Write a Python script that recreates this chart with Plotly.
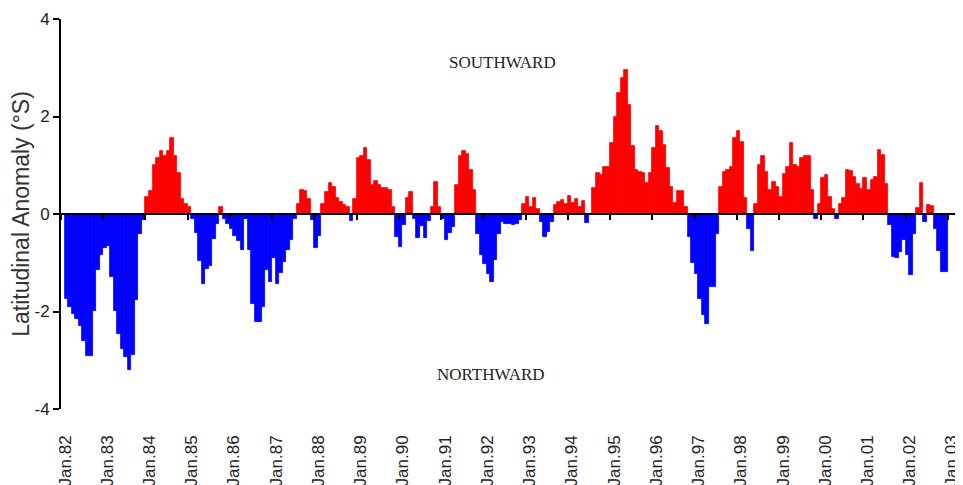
import plotly.graph_objects as go

# Monthly latitudinal anomaly (deg S), Jan 1982 .. Dec 2002, one row per year
y1982 = [0.0, -1.74, -1.9, -2.05, -2.15, -2.3, -2.6, -2.92, -2.92, -1.98, -1.15, -0.85]
y1983 = [-0.7, -0.65, -1.3, -1.98, -2.46, -2.76, -2.93, -3.21, -2.9, -1.77, -0.4, -0.12]
y1984 = [0.35, 0.48, 1.0, 1.15, 1.3, 1.2, 1.3, 1.55, 1.2, 0.85, 0.3, 0.2]
y1985 = [0.14, -0.1, -0.38, -0.96, -1.44, -1.13, -1.06, -0.51, -0.2, 0.14, -0.1, -0.2]
y1986 = [-0.3, -0.45, -0.55, -0.74, -0.1, -0.74, -1.84, -2.21, -2.21, -1.9, -1.15, -1.39]
y1987 = [-0.91, -1.43, -1.2, -0.98, -0.74, -0.53, -0.1, 0.2, 0.5, 0.48, 0.3, -0.12]
y1988 = [-0.7, -0.45, 0.2, 0.46, 0.63, 0.56, 0.32, 0.25, 0.19, 0.15, -0.15, 0.3]
y1989 = [1.15, 1.2, 1.35, 1.11, 0.6, 0.67, 0.6, 0.53, 0.53, 0.5, 0.15, -0.47]
y1990 = [-0.67, -0.23, 0.32, 0.46, -0.1, -0.5, -0.25, -0.5, -0.15, 0.15, 0.65, 0.15]
y1991 = [-0.1, -0.54, -0.38, -0.27, 0.6, 1.2, 1.3, 1.24, 0.9, 0.49, -0.4, -0.85]
y1992 = [-1.02, -1.23, -1.4, -0.95, -0.4, -0.17, -0.2, -0.2, -0.22, -0.2, -0.13, 0.21]
y1993 = [0.35, 0.14, 0.32, 0.11, -0.16, -0.47, -0.37, -0.16, 0.18, 0.25, 0.28, 0.2]
y1994 = [0.36, 0.22, 0.3, 0.15, 0.27, -0.18, 0.0, 0.53, 0.84, 0.8, 0.97, 0.97]
y1995 = [1.45, 2.0, 2.48, 2.79, 2.96, 2.24, 1.4, 0.9, 0.87, 0.84, 0.63, 0.84]
y1996 = [1.35, 1.8, 1.7, 1.42, 0.94, 0.56, 0.22, 0.48, 0.48, 0.14, -0.47, -1.0]
y1997 = [-1.23, -1.74, -2.08, -2.26, -1.5, -1.5, -0.4, 0.56, 0.86, 0.9, 0.97, 1.55]
y1998 = [1.7, 1.48, 0.33, -0.3, -0.75, 0.21, 1.0, 1.2, 0.86, 0.49, 0.66, 0.56]
y1999 = [0.35, 0.83, 0.97, 1.45, 1.0, 0.97, 1.14, 1.2, 1.2, 0.5, -0.1, 0.21]
y2000 = [0.73, 0.8, 0.35, 0.11, -0.1, 0.21, 0.32, 0.9, 0.88, 0.76, 0.62, 0.52]
y2001 = [0.73, 0.49, 0.69, 0.76, 1.31, 1.21, 0.62, -0.23, -0.88, -0.91, -0.78, -0.53]
y2002 = [-0.84, -1.26, -0.4, 0.12, 0.64, -0.16, 0.19, 0.17, -0.3, -0.75, -1.19, -1.19]

years = [y1982, y1983, y1984, y1985, y1986, y1987, y1988, y1989, y1990, y1991, y1992,
         y1993, y1994, y1995, y1996, y1997, y1998, y1999, y2000, y2001, y2002]

tick_labels = ["Jan.82", "Jan.83", "Jan.84", "Jan.85", "Jan.86", "Jan.87", "Jan.88",
               "Jan.89", "Jan.90", "Jan.91", "Jan.92", "Jan.93", "Jan.94", "Jan.95",
               "Jan.96", "Jan.97", "Jan.98", "Jan.99", "Jan.00", "Jan.01", "Jan.02",
               "Jan.03"]
y_ticks = [-4, -2, 0, 2, 4]

values = [v for yr in years for v in yr]
month_idx = list(range(len(values)))
xpos = [m + 0.5 for m in month_idx]
colors = ["#FF0000" if v > 0 else "#0000FF" for v in values]
tick_pos = [12 * i for i in range(len(tick_labels))]

fig = go.Figure()
fig.add_trace(go.Bar(x=xpos, y=values, width=1.0,
                     marker=dict(color=colors, line=dict(color=colors, width=0.8)),
                     showlegend=False, hoverinfo="skip"))
fig.add_trace(go.Scatter(x=[None], y=[None], xaxis="x2", yaxis="y", showlegend=False,
                         hoverinfo="skip"))

fig.update_layout(
    width=955, height=477,
    margin=dict(l=53, r=8, t=11, b=76),
    paper_bgcolor="white", plot_bgcolor="white",
    bargap=0,
    xaxis=dict(range=[0, 254], tickvals=tick_pos, ticktext=tick_labels, tickangle=-90,
               showline=False, ticks="", showgrid=False, zeroline=False, automargin=False,
               ticklabelstandoff=22, ticklabelshift=4,
               tickfont=dict(family="Liberation Sans, Arial", size=17, color="#222")),
    xaxis2=dict(range=[0, 254], overlaying="x", anchor="free", position=0.5, side="bottom",
                tickvals=tick_pos, showticklabels=False, showline=True, linecolor="black",
                linewidth=2, ticks="outside", ticklen=5, tickwidth=2, tickcolor="black",
                showgrid=False, zeroline=False, automargin=False),
    yaxis=dict(range=[-4, 4], tickvals=y_ticks, ticktext=[str(t) for t in y_ticks],
               showline=True, linecolor="black", linewidth=2, ticks="outside", ticklen=6,
               tickwidth=2, tickcolor="black", showgrid=False, zeroline=False,
               automargin=False,
               tickfont=dict(family="Liberation Sans, Arial", size=17, color="#222"),
               title=dict(text="Latitudinal Anomaly (°S)", standoff=8,
                          font=dict(family="Liberation Sans, Arial", size=23, color="#333"))),
    annotations=[
        dict(x=125.3, y=3.1, xref="x", yref="y", text="SOUTHWARD", showarrow=False,
             font=dict(family="Liberation Serif, Times New Roman", size=17, color="#222")),
        dict(x=122.2, y=-3.3, xref="x", yref="y", text="NORTHWARD", showarrow=False,
             font=dict(family="Liberation Serif, Times New Roman", size=17, color="#222")),
    ],
)

fig.write_html("out.html")
